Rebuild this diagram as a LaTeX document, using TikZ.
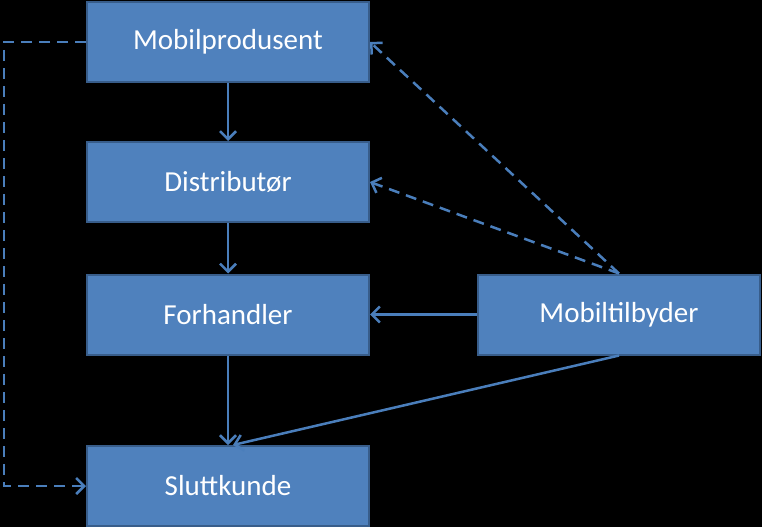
\documentclass[tikz,border=0pt]{standalone}
\usepackage{fontspec}
\setmainfont{Carlito}
\usetikzlibrary{arrows.meta}
\definecolor{boxfill}{HTML}{4F81BD}
\definecolor{boxline}{HTML}{385D8A}
\definecolor{conn}{HTML}{4A7EBB}
\begin{document}
\begin{tikzpicture}[x=1pt,y=-1pt,
  box/.style={draw=boxline,line width=2pt,fill=boxfill,minimum width=282pt,minimum height=80pt,inner sep=0pt,text=white,font=\fontsize{29}{33}\selectfont},
  conline/.style={draw=conn,line width=2.5pt,-{Straight Barb[length=8pt,width=16pt,line width=2.5pt]}},
  dashline/.style={conline,dash pattern=on 11pt off 7pt}]
\fill[black] (0,0) rectangle (762,527);
\useasboundingbox (0,0) rectangle (762,527);
\node[box] (mp) at (228,42) {Mobilprodusent};
\node[box] (di) at (228,182) {Distributør};
\node[box] (fo) at (228,314.5) {Forhandler};
\node[box] (sk) at (228,486) {Sluttkunde};
\node[box] (mt) at (619,314.5) {Mobiltilbyder};
\draw[conline] (mp.south) -- (di.north);
\draw[conline] (di.south) -- (fo.north);
\draw[conline] (fo.south) -- (sk.north);
\draw[conline] (mt.west) -- (fo.east);
\draw[conline] (mt.south) -- ([xshift=5pt]sk.north);
\draw[dashline] (mt.north) -- (mp.east);
\draw[dashline] (mt.north) -- (di.east);
\draw[dashline] (mp.west) -- ++(-82,0) |- (sk.west);
\end{tikzpicture}
\end{document}
